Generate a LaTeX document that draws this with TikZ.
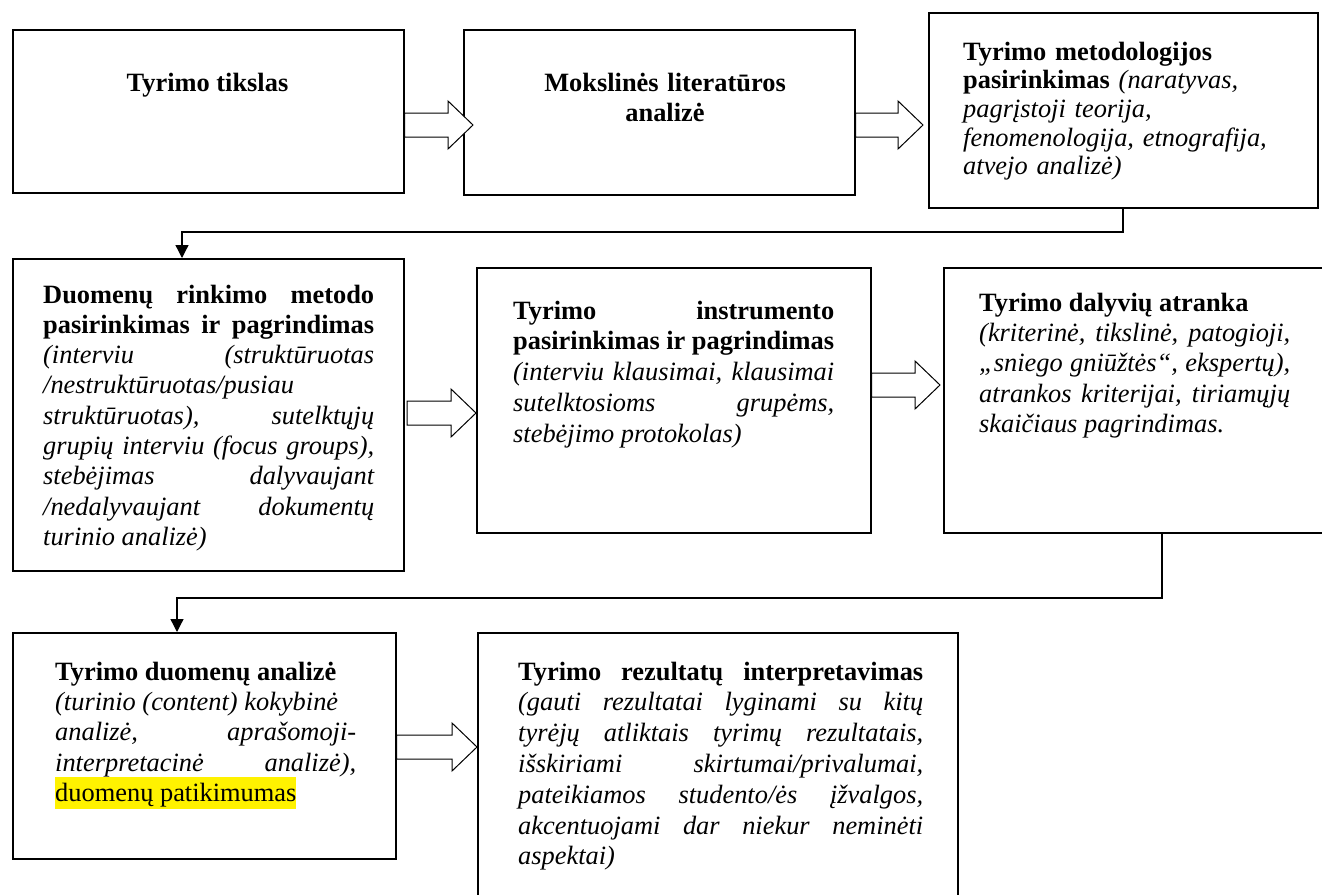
\documentclass[tikz,border=0pt]{standalone}
\usepackage{fontspec}
\setmainfont{Liberation Serif}
\usetikzlibrary{arrows.meta,calc}
\setlength{\fboxsep}{0pt}
\newcommand{\blockarrow}[2]{%
  \draw[barrow] let \p1=(#1), \p2=(#2) in
    (\x1,\y1+12pt) -- (\x2-25pt,\y1+12pt) -- (\x2-25pt,\y1+24pt) -- (\x2,\y1)
    -- (\x2-25pt,\y1-24pt) -- (\x2-25pt,\y1-12pt) -- (\x1,\y1-12pt) -- cycle;}
\tikzset{
  box/.style={draw, line width=1.6pt, inner sep=0pt, anchor=north west},
  txt/.style={inner sep=0pt, anchor=base west, font=\fontsize{26.4}{30.4}\selectfont},
  conn/.style={line width=1.3pt, -{Triangle[width=13pt,length=13pt]}},
  barrow/.style={line width=1pt, fill=white, line join=miter},
}
\begin{document}
\begin{tikzpicture}[x=1pt,y=1pt]
\useasboundingbox (0,0) rectangle (1322,-894);
\clip (0,0) rectangle (1322,-894);
\fill[white] (0,0) rectangle (1322,-894);
% boxes
\node[box, minimum width=391pt, minimum height=163pt] (b1) at (12,-29) {};
\node[box, minimum width=391pt, minimum height=165pt] (b2) at (463,-29) {};
\node[box, minimum width=389pt, minimum height=195pt] (b3) at (928,-12) {};
\node[box, minimum width=391pt, minimum height=312pt] (b4) at (12,-258) {};
\node[box, minimum width=394pt, minimum height=265pt] (b5) at (476,-267) {};
\node[box, minimum width=397pt, minimum height=265pt] (b6) at (943,-267) {};
\node[box, minimum width=383pt, minimum height=226pt] (b7) at (12,-632) {};
\node[box, minimum width=480pt, minimum height=278pt] (b8) at (477,-632) {};
% texts
\node[txt, anchor=base] (t1) at (207.5,-91) {\textbf{Tyrimo tikslas}};
\node[txt, anchor=base, text width=380pt, align=center] (t2) at (665,-91)
  {\textbf{Mokslinės literatūros}\\\textbf{analizė}};
\node[txt, text width=350pt, align=left, font=\fontsize{26.4}{28.7}\selectfont] (t3) at (963,-60)
  {\textbf{Tyrimo metodologijos}\\
   \textbf{pasirinkimas} \textit{(naratyvas,}\\
   \textit{pagrįstoji teorija,}\\
   \textit{fenomenologija, etnografija,}\\
   \textit{atvejo analizė)}};
\node[txt, text width=331pt, align=justify, font=\fontsize{26.4}{30.3}\selectfont] (t4) at (43,-303)
  {\textbf{Duomenų rinkimo metodo\linebreak pasirinkimas ir pagrindimas}\linebreak
   \textit{(interviu (struktūruotas\linebreak /nestruktūruotas/pusiau\newline
   struktūruotas), sutelktųjų\linebreak grupių interviu (focus groups),\linebreak
   stebėjimas dalyvaujant\linebreak /nedalyvaujant dokumentų\linebreak turinio analizė)}};
\node[txt, text width=321pt, align=justify, font=\fontsize{26.4}{30.8}\selectfont] (t5) at (513,-319)
  {\textbf{Tyrimo instrumento\linebreak pasirinkimas ir pagrindimas}\linebreak
   \textit{(interviu klausimai, klausimai\linebreak sutelktosioms grupėms,\linebreak
   stebėjimo protokolas)}};
\node[txt, text width=311pt, align=justify, font=\fontsize{26.4}{30.4}\selectfont] (t6) at (979,-311)
  {\textbf{Tyrimo dalyvių atranka}\newline
   \textit{(kriterinė, tikslinė, patogioji,\linebreak „sniego gniūžtės“, ekspertų),\linebreak
   atrankos kriterijai, tiriamųjų\linebreak skaičiaus pagrindimas.}};
\node[txt, text width=301pt, align=justify, font=\fontsize{26.4}{30.4}\selectfont] (t7) at (55,-680)
  {\textbf{Tyrimo duomenų analizė}\newline
   \textit{(turinio (content) kokybinė\newline analizė, aprašomoji-\linebreak
   interpretacinė analizė),}\linebreak
   \smash{\colorbox{yellow}{\rule[-7.4pt]{0pt}{32pt}duomenų patikimumas}}};
\node[txt, text width=405pt, align=justify, font=\fontsize{26.4}{30.8}\selectfont] (t8) at (518,-680)
  {\textbf{Tyrimo rezultatų interpretavimas}\linebreak
   \textit{(gauti rezultatai lyginami su kitų\linebreak tyrėjų atliktais tyrimų rezultatais,\linebreak
   išskiriami skirtumai/privalumai,\linebreak pateikiamos studento/ės įžvalgos,\linebreak
   akcentuojami dar niekur neminėti\linebreak aspektai)}};
% block arrows
\coordinate (a1t) at (473,-125);
\coordinate (a2t) at (923,-125);
\coordinate (a3s) at (407,-413);
\coordinate (a4t) at (940,-385);
\coordinate (a5s) at (395,-747);
\blockarrow{b1.east |- a1t}{a1t}
\blockarrow{b2.east |- a2t}{a2t}
\blockarrow{a3s}{b5.west |- a3s}
\blockarrow{b5.east |- a4t}{a4t}
\blockarrow{b7.east |- a5s}{b8.west |- a5s}
% elbow connectors
\coordinate (k1a) at (1123,-232);
\coordinate (k1b) at (182,-232);
\draw[conn] (b3.south -| k1a) -- (k1a) -- (k1b) -- (b4.north -| k1b);
\coordinate (k2a) at (1162,-598);
\coordinate (k2b) at (177,-598);
\draw[conn] (b6.south -| k2a) -- (k2a) -- (k2b) -- (b7.north -| k2b);
\end{tikzpicture}
\end{document}
